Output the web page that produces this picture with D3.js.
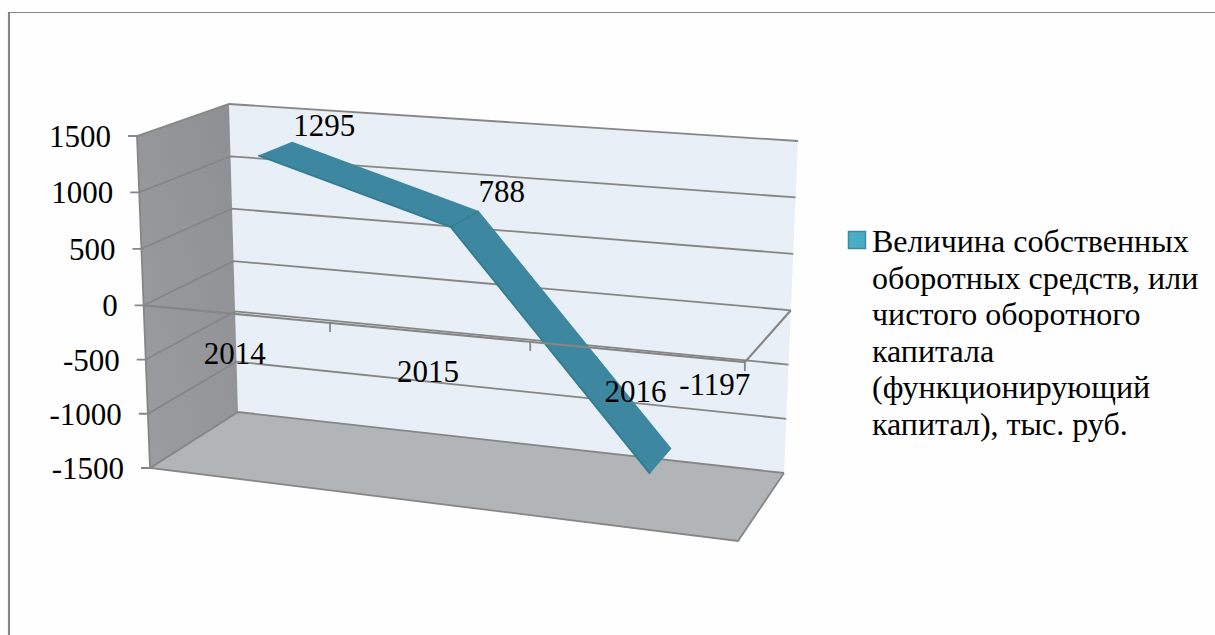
<!DOCTYPE html>
<html>
<head>
<meta charset="utf-8">
<script src="https://cdn.jsdelivr.net/npm/d3@7"></script>
<style>
  html, body { margin: 0; padding: 0; background: #fff; }
  svg { display: block; }
  text { font-family: "Liberation Serif", serif; fill: #000; }
</style>
</head>
<body>
<svg width="1215" height="635"></svg>
<script>
  var categories = ["2014", "2015", "2016"];
  var values = [1295, 788, -1197];
  var yTicks = [1500, 1000, 500, 0, -500, -1000, -1500];
  var seriesName = ["Величина собственных", "оборотных средств, или", "чистого оборотного", "капитала", "(функционирующий", "капитал), тыс. руб."];

  // corners of the 3d box as drawn, [u][v][w] = left/right, bottom/top, front/back
  var box = {
    lbf: [150, 468], ltf: [137, 136], lbb: [238, 412], ltb: [229, 104],
    rbf: [738, 541], rtf: [752, 176], rbb: [784, 473], rtb: [798, 141]
  };

  var svg = d3.select("svg");

  var x = d3.scaleLinear().domain([0, 1, 2, 3]).range([0, 0.31, 0.643, 1]);
  var y = d3.scaleLinear().domain([-1500, 0, 1500]).range([0, 0.49, 1]);

  function mix(a, b, t) { return [a[0] + (b[0] - a[0]) * t, a[1] + (b[1] - a[1]) * t]; }

  function project(u, v, w) {
    var left = mix(mix(box.lbf, box.ltf, v), mix(box.lbb, box.ltb, v), w);
    var right = mix(mix(box.rbf, box.rtf, v), mix(box.rbb, box.rtb, v), w);
    return mix(left, right, u);
  }

  var line = d3.line();
  var gridColor = "#868686";
  var numberSize = 31, legendSize = 32;

  var defs = svg.append("defs");
  var grad = defs.append("linearGradient").attr("id", "sideWall")
      .attr("x1", 0).attr("y1", 1).attr("x2", 1).attr("y2", 0);
  grad.append("stop").attr("offset", 0).attr("stop-color", "#9b9da0");
  grad.append("stop").attr("offset", 1).attr("stop-color", "#8d8f92");

  // picture frame, only top and left show
  svg.append("rect").attr("width", 1215).attr("height", 635).attr("fill", "#fefefe");
  svg.append("path").attr("d", "M1215,12.5H8.5V635").attr("fill", "none").attr("stroke", gridColor).attr("stroke-width", 1.2);
  svg.append("path").attr("d", "M9,13V635").attr("fill", "none").attr("stroke", gridColor).attr("stroke-width", 2);

  // walls and floor
  svg.append("path")
      .attr("d", line([project(0, 0, 1), project(0, 1, 1), project(1, 1, 1), project(1, 0, 1)]) + "Z")
      .attr("fill", "#e8eff6");
  svg.append("path")
      .attr("d", line([project(0, 0, 0), project(0, 1, 0), project(0, 1, 1), project(0, 0, 1)]) + "Z")
      .attr("fill", "url(#sideWall)");
  svg.append("path")
      .attr("d", line([project(0, 0, 0), project(1, 0, 0), project(1, 0, 1), project(0, 0, 1)]) + "Z")
      .attr("fill", "#b1b5b8");

  // gridlines running along side wall and back wall, with value ticks
  var grid = svg.append("g").attr("fill", "none").attr("stroke", gridColor).attr("stroke-width", 1.8);

  grid.selectAll("path.level")
    .data(yTicks)
    .enter().append("path")
      .attr("class", "level")
      .attr("d", function(d) {
        var a = project(0, y(d), 0);
        return line([[a[0] - 9, a[1]], a, project(0, y(d), 1), project(1, y(d), 1)]);
      });

  // outline of side wall front edge and floor front
  grid.append("path").attr("d", line([project(0, 1, 0), project(0, 0, 0), project(1, 0, 0), project(1, 0, 1)]));

  // the ribbon
  var ribbonFront = 0.3, ribbonBack = 0.7;
  var points = values.map(function(d, i) {
    return { front: project(x(i + 0.5), y(d), ribbonFront), back: project(x(i + 0.5), y(d), ribbonBack), mid: project(x(i + 0.5), y(d), 0.5) };
  });

  var ribbon = svg.append("g");
  ribbon.selectAll("path.face")
    .data(d3.pairs(points))
    .enter().append("path")
      .attr("class", "face")
      .attr("d", function(d) { return line([d[0].front, d[1].front, d[1].back, d[0].back]) + "Z"; })
      .attr("fill", "#3d88a0");
  ribbon.append("path")
      .attr("d", line(points.map(function(d) { return d.front; })))
      .attr("fill", "none").attr("stroke", "#337d93").attr("stroke-width", 2);
  ribbon.append("path")
      .attr("d", line([points[1].front, points[1].back]))
      .attr("fill", "none").attr("stroke", "#337d93").attr("stroke-width", 1.5);

  // zero plane edge over the ribbon, with category ticks
  var axis = svg.append("g").attr("fill", "none").attr("stroke", gridColor);
  axis.append("path")
      .attr("stroke-width", 2.2)
      .attr("d", line([project(0, y(0), 0), project(1, y(0), 0), project(1, y(0), 1)]));
  axis.selectAll("path.tick")
    .data([1, 2, 3])
    .enter().append("path")
      .attr("class", "tick")
      .attr("stroke-width", 1.8)
      .attr("d", function(d) {
        var a = project(x(d), y(0), 0);
        return line([a, [a[0], a[1] + 9]]);
      });

  // value axis labels
  svg.selectAll("text.ylabel")
    .data(yTicks)
    .enter().append("text")
      .attr("class", "ylabel")
      .attr("text-anchor", "end")
      .attr("font-size", numberSize)
      .attr("x", function(d) { return project(0, y(d), 0)[0] - 26; })
      .attr("y", function(d) { return project(0, y(d), 0)[1] + 11; })
      .text(function(d) { return d; });

  // category labels
  svg.selectAll("text.xlabel")
    .data(categories)
    .enter().append("text")
      .attr("class", "xlabel")
      .attr("text-anchor", "middle")
      .attr("font-size", numberSize)
      .attr("x", function(d, i) { return project(x(i + 0.5), y(0), 0)[0] - 2; })
      .attr("y", function(d, i) { return project(x(i + 0.5), y(0), 0)[1] + 50; })
      .text(function(d) { return d; });

  // data labels, nudged off the ribbon by hand
  var labelNudge = [[49, -13], [37, -17], [54, -66]];
  svg.selectAll("text.vlabel")
    .data(values)
    .enter().append("text")
      .attr("class", "vlabel")
      .attr("text-anchor", "middle")
      .attr("font-size", numberSize)
      .attr("x", function(d, i) { return points[i].mid[0] + labelNudge[i][0]; })
      .attr("y", function(d, i) { return points[i].mid[1] + labelNudge[i][1]; })
      .text(function(d) { return d; });

  // legend
  svg.append("rect")
      .attr("x", 848.5).attr("y", 231.5).attr("width", 17).attr("height", 17)
      .attr("fill", "#4bacc6").attr("stroke", "#3c8aa0").attr("stroke-width", 1.5);
  svg.selectAll("text.legend")
    .data(seriesName)
    .enter().append("text")
      .attr("class", "legend")
      .attr("font-size", legendSize)
      .attr("x", 872)
      .attr("y", function(d, i) { return 252 + i * 36.6; })
      .text(function(d) { return d; });
</script>
</body>
</html>
